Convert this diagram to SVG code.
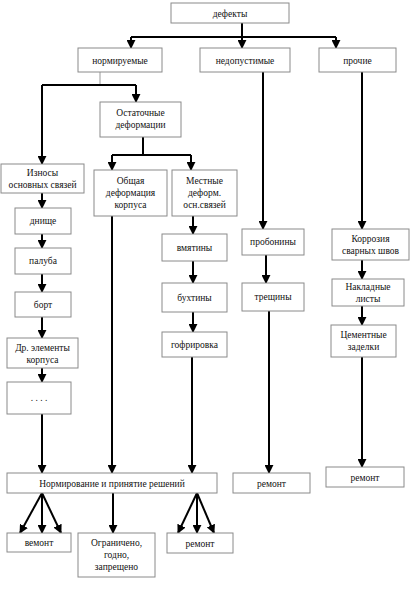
<svg xmlns="http://www.w3.org/2000/svg" width="413" height="599" viewBox="0 0 413 599">
<style>
.b{fill:#fff;stroke:#8a8a8a;stroke-width:1}
.t{font-family:"Liberation Serif","Times New Roman",serif;font-size:9.5px;fill:#111;text-anchor:middle}
.c{fill:none;stroke:#000;stroke-width:2}
.g{fill:none;stroke:#999;stroke-width:1}
</style>
<defs>
<marker id="a" viewBox="0 0 10 10" refX="9" refY="5" markerWidth="4.5" markerHeight="4.5" orient="auto" markerUnits="strokeWidth">
<path d="M0,0 L10,5 L0,10 z" fill="#000"/>
</marker>
</defs>
<rect width="413" height="599" fill="#fff"/>
<g id="connectors">
<path class="c" d="M242,23 V48" marker-end="url(#a)"/>
<path class="c" d="M131,37 H336"/>
<path class="c" d="M131,37 V48" marker-end="url(#a)"/>
<path class="c" d="M336,37 V48" marker-end="url(#a)"/>
<path class="g" d="M100,72 V85"/>
<path class="c" d="M42,85 H136"/>
<path class="c" d="M136,85 V102" marker-end="url(#a)"/>
<path class="c" d="M42,85 V164" marker-end="url(#a)"/>
<path class="c" d="M143,137 V155"/>
<path class="c" d="M112,155 H191"/>
<path class="c" d="M112,155 V170" marker-end="url(#a)"/>
<path class="c" d="M191,155 V170" marker-end="url(#a)"/>
<path class="c" d="M42,193 V208" marker-end="url(#a)"/>
<path class="c" d="M42,234 V248" marker-end="url(#a)"/>
<path class="c" d="M42,274 V292" marker-end="url(#a)"/>
<path class="c" d="M42,317 V338" marker-end="url(#a)"/>
<path class="c" d="M42,368 V382" marker-end="url(#a)"/>
<path class="c" d="M42,414 V473" marker-end="url(#a)"/>
<path class="c" d="M112,216 V473" marker-end="url(#a)"/>
<path class="c" d="M193,216 V234" marker-end="url(#a)"/>
<path class="c" d="M193,261 V283" marker-end="url(#a)"/>
<path class="c" d="M193,312 V332" marker-end="url(#a)"/>
<path class="c" d="M192,357 V473" marker-end="url(#a)"/>
<path class="c" d="M263,72 V229" marker-end="url(#a)"/>
<path class="c" d="M266,255 V283" marker-end="url(#a)"/>
<path class="c" d="M269,311 V473" marker-end="url(#a)"/>
<path class="c" d="M362,72 V229" marker-end="url(#a)"/>
<path class="c" d="M362,260 V279" marker-end="url(#a)"/>
<path class="c" d="M362,306 V325" marker-end="url(#a)"/>
<path class="c" d="M362,357 V467" marker-end="url(#a)"/>
<path class="c" d="M42,493 L20,533" marker-end="url(#a)"/>
<path class="c" d="M42,493 V533" marker-end="url(#a)"/>
<path class="c" d="M42,493 L61,533" marker-end="url(#a)"/>
<path class="c" d="M113,493 V533" marker-end="url(#a)"/>
<path class="c" d="M197,493 L178,533" marker-end="url(#a)"/>
<path class="c" d="M197,493 V533" marker-end="url(#a)"/>
<path class="c" d="M197,493 L214,533" marker-end="url(#a)"/>
</g>
<g id="n-defekty"><rect class="b" x="171" y="3" width="118" height="20"/><text class="t" x="230" y="16.5">дефекты</text></g>
<g id="n-normiruemye"><rect class="b" x="78" y="48" width="84" height="24"/><text class="t" x="120" y="63.5">нормируемые</text></g>
<g id="n-nedopustimye"><rect class="b" x="200" y="48" width="90" height="24"/><text class="t" x="245" y="63.5">недопустимые</text></g>
<g id="n-prochie"><rect class="b" x="319" y="48" width="77" height="24"/><text class="t" x="357.5" y="63.5">прочие</text></g>
<g id="n-ostatochnye"><rect class="b" x="100" y="102" width="81" height="35"/><text class="t" x="140.5" y="116">Остаточные</text><text class="t" x="140.5" y="128">деформации</text></g>
<g id="n-iznosy"><rect class="b" x="1" y="164" width="83" height="29"/><text class="t" x="42.5" y="176">Износы</text><text class="t" x="42.5" y="188">основных связей</text></g>
<g id="n-obshchaya"><rect class="b" x="94" y="170" width="73" height="46"/><text class="t" x="130.5" y="184">Общая</text><text class="t" x="130.5" y="196">деформация</text><text class="t" x="130.5" y="208">корпуса</text></g>
<g id="n-mestnye"><rect class="b" x="172" y="170" width="65" height="46"/><text class="t" x="204.5" y="184">Местные</text><text class="t" x="204.5" y="196">деформ.</text><text class="t" x="204.5" y="208">осн.связей</text></g>
<g id="n-dnishche"><rect class="b" x="15" y="208" width="56" height="26"/><text class="t" x="43" y="224">днище</text></g>
<g id="n-paluba"><rect class="b" x="15" y="248" width="56" height="26"/><text class="t" x="43" y="264">палуба</text></g>
<g id="n-bort"><rect class="b" x="15" y="292" width="56" height="25"/><text class="t" x="43" y="307.5">борт</text></g>
<g id="n-dr"><rect class="b" x="7" y="338" width="71" height="30"/><text class="t" x="42.5" y="351">Др. элементы</text><text class="t" x="42.5" y="363">корпуса</text></g>
<g id="n-dots"><rect class="b" x="7" y="382" width="64" height="32"/><text class="t" x="39" y="401">. . . .</text></g>
<g id="n-vmyatiny"><rect class="b" x="162" y="234" width="65" height="27"/><text class="t" x="194.5" y="250.5">вмятины</text></g>
<g id="n-buhtiny"><rect class="b" x="162" y="283" width="65" height="29"/><text class="t" x="194.5" y="300.5">бухтины</text></g>
<g id="n-gofrirovka"><rect class="b" x="162" y="332" width="65" height="25"/><text class="t" x="194.5" y="347.5">гофрировка</text></g>
<g id="n-proboiny"><rect class="b" x="242" y="229" width="62" height="26"/><text class="t" x="273" y="245">пробонины</text></g>
<g id="n-treshchiny"><rect class="b" x="242" y="283" width="62" height="28"/><text class="t" x="273" y="300">трещины</text></g>
<g id="n-korroziya"><rect class="b" x="332" y="229" width="77" height="31"/><text class="t" x="370.5" y="242">Коррозия</text><text class="t" x="370.5" y="254">сварных швов</text></g>
<g id="n-nakladnye"><rect class="b" x="332" y="279" width="72" height="27"/><text class="t" x="368" y="290">Накладные</text><text class="t" x="368" y="302">листы</text></g>
<g id="n-cementnye"><rect class="b" x="331" y="325" width="65" height="32"/><text class="t" x="363.5" y="338">Цементные</text><text class="t" x="363.5" y="350">заделки</text></g>
<g id="n-normirovanie"><rect class="b" x="7" y="473" width="210" height="20"/><text class="t" x="112" y="486.5">Нормирование и принятие решений</text></g>
<g id="n-remont-mid"><rect class="b" x="233" y="473" width="77" height="20"/><text class="t" x="271.5" y="486.5">ремонт</text></g>
<g id="n-remont-right"><rect class="b" x="326" y="467" width="78" height="20"/><text class="t" x="365" y="480.5">ремонт</text></g>
<g id="n-vemont"><rect class="b" x="7" y="533" width="64" height="19"/><text class="t" x="39" y="546">вемонт</text></g>
<g id="n-ogranicheno"><rect class="b" x="78" y="533" width="77" height="44"/><text class="t" x="116.5" y="546">Ограничено,</text><text class="t" x="116.5" y="558">годно,</text><text class="t" x="116.5" y="570">запрещено</text></g>
<g id="n-remont-bottom"><rect class="b" x="167" y="533" width="66" height="20"/><text class="t" x="200" y="546.5">ремонт</text></g>
</svg>
